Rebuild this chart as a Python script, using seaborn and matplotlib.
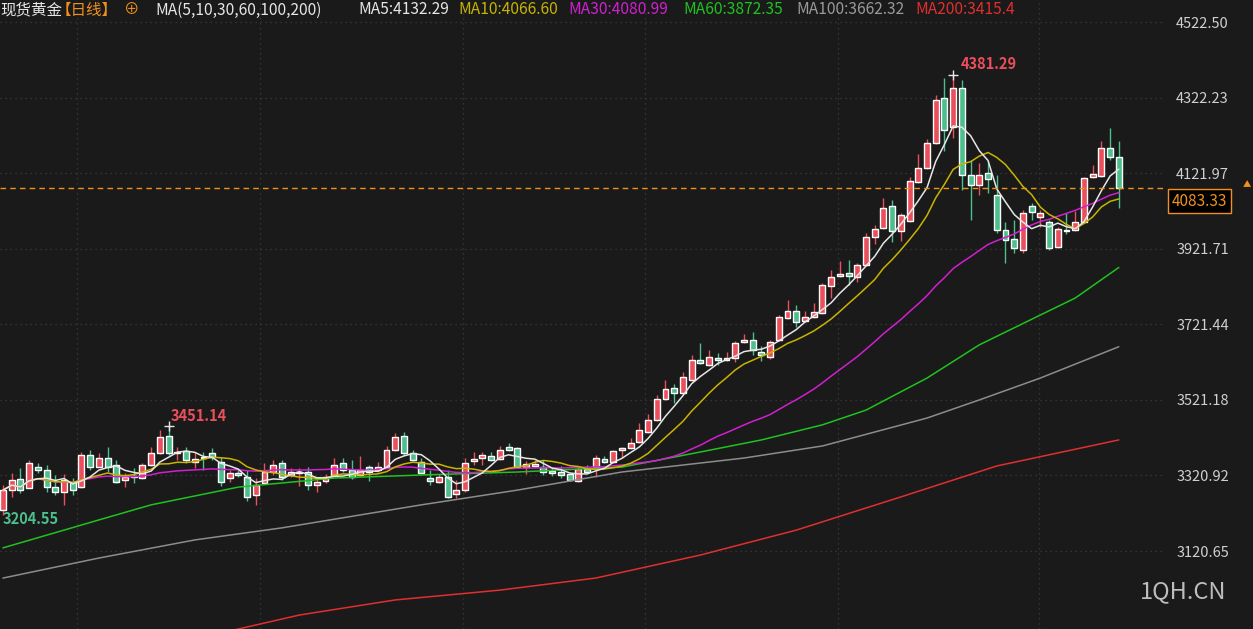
import numpy as np
import pandas as pd
import matplotlib
matplotlib.use("Agg")
import matplotlib.pyplot as plt
import seaborn as sns

# daily candles of spot gold
opens = [3229, 3282, 3311, 3287, 3343, 3335, 3290, 3277, 3303, 3290,
         3375, 3343, 3367, 3348, 3308, 3319, 3314, 3348, 3380, 3425,
         3380, 3385, 3356, 3369, 3380, 3356, 3314, 3327, 3316, 3269,
         3301, 3330, 3354, 3322, 3327, 3330, 3295, 3306, 3322, 3354,
         3335, 3322, 3343, 3335, 3343, 3388, 3425, 3380, 3356, 3314,
         3303, 3316, 3271, 3282, 3359, 3367, 3372, 3364, 3396, 3393,
         3343, 3346, 3343, 3332, 3330, 3324, 3306, 3338, 3343, 3364,
         3356, 3388, 3393, 3409, 3436, 3468, 3523, 3552, 3539, 3574,
         3627, 3613, 3632, 3627, 3632, 3674, 3680, 3648, 3634, 3680,
         3738, 3756, 3730, 3740, 3751, 3823, 3849, 3857, 3846, 3878,
         3952, 3976, 4035, 3968, 3995, 4098, 4135, 4202, 4321, 4244,
         4347, 4117, 4090, 4122, 4064, 3971, 3947, 3918, 4035, 4005,
         3992, 3926, 3971, 3971, 3992, 4111, 4114, 4188, 4164]
closes = [3282, 3308, 3282, 3354, 3335, 3290, 3277, 3308, 3282, 3375,
          3343, 3367, 3343, 3303, 3316, 3316, 3348, 3380, 3422, 3380,
          3383, 3362, 3364, 3367, 3369, 3303, 3327, 3322, 3263, 3295,
          3330, 3348, 3316, 3330, 3330, 3295, 3303, 3316, 3348, 3335,
          3316, 3335, 3330, 3343, 3388, 3422, 3380, 3362, 3327, 3306,
          3316, 3263, 3282, 3354, 3365, 3375, 3362, 3388, 3388, 3343,
          3351, 3351, 3330, 3327, 3322, 3308, 3338, 3330, 3367, 3356,
          3385, 3393, 3407, 3441, 3468, 3523, 3550, 3539, 3581, 3627,
          3619, 3634, 3627, 3632, 3672, 3680, 3653, 3640, 3674, 3740,
          3756, 3727, 3740, 3754, 3825, 3846, 3854, 3849, 3878, 3952,
          3974, 4029, 3968, 4011, 4101, 4135, 4202, 4316, 4236, 4347,
          4117, 4090, 4117, 4106, 3971, 3945, 3923, 4016, 4019, 4016,
          3923, 3974, 3968, 3992, 4109, 4119, 4188, 4164, 4083.33]
highs = [3295, 3327, 3340, 3362, 3354, 3348, 3322, 3324, 3314, 3383,
         3388, 3380, 3396, 3362, 3327, 3340, 3354, 3396, 3441, 3451.14,
         3396, 3396, 3383, 3383, 3393, 3369, 3335, 3335, 3335, 3314,
         3354, 3362, 3362, 3340, 3340, 3343, 3314, 3324, 3367, 3367,
         3362, 3372, 3348, 3356, 3399, 3433, 3436, 3388, 3367, 3335,
         3324, 3335, 3308, 3367, 3383, 3383, 3383, 3399, 3407, 3396,
         3359, 3362, 3362, 3340, 3346, 3327, 3346, 3348, 3375, 3372,
         3388, 3396, 3420, 3460, 3483, 3534, 3574, 3563, 3595, 3640,
         3672, 3653, 3645, 3648, 3677, 3695, 3701, 3664, 3680, 3746,
         3786, 3772, 3756, 3778, 3831, 3865, 3889, 3892, 3884, 3963,
         3984, 4056, 4051, 4016, 4111, 4172, 4212, 4329, 4374, 4381.29,
         4369, 4157, 4149, 4154, 4117, 3992, 3999, 4024, 4043, 4024,
         3999, 3979, 4016, 4021, 4111, 4143, 4207, 4241, 4207]
lows = [3216, 3263, 3274, 3287, 3327, 3277, 3269, 3242, 3269, 3287,
        3335, 3343, 3330, 3301, 3290, 3301, 3311, 3346, 3378, 3375,
        3362, 3354, 3340, 3335, 3362, 3293, 3303, 3316, 3253, 3242,
        3298, 3322, 3308, 3316, 3293, 3282, 3277, 3301, 3319, 3330,
        3311, 3319, 3306, 3330, 3340, 3385, 3375, 3359, 3324, 3295,
        3301, 3261, 3261, 3277, 3348, 3348, 3359, 3362, 3385, 3340,
        3324, 3343, 3322, 3319, 3314, 3306, 3303, 3324, 3316, 3354,
        3354, 3369, 3390, 3407, 3433, 3465, 3520, 3513, 3536, 3570,
        3615, 3610, 3613, 3624, 3621, 3671, 3640, 3624, 3629, 3677,
        3735, 3714, 3727, 3737, 3748, 3791, 3846, 3825, 3833, 3875,
        3934, 3973, 3939, 3942, 3992, 4095, 4132, 4199, 4180, 4215,
        4077, 3998, 4064, 4069, 3963, 3884, 3910, 3910, 3998, 3979,
        3918, 3923, 3960, 3968, 3990, 4109, 4111, 4157, 4029]

# long averages, read at a few candles
ma60_idx = [0, 7, 11, 17, 27, 38, 48, 59, 71, 80, 87, 94, 99, 106, 112, 119, 123, 128]
ma60_val = [3129, 3176, 3203, 3243, 3290, 3314, 3322, 3330, 3343, 3383, 3415, 3455,
            3494, 3579, 3667, 3746, 3791, 3872]
ma100_idx = [0, 11, 22, 32, 48, 59, 71, 85, 94, 106, 112, 119, 128]
ma100_val = [3049, 3102, 3150, 3182, 3243, 3282, 3330, 3367, 3399, 3473, 3521, 3579, 3662]
ma200_idx = [0, 27, 34, 45, 57, 68, 80, 91, 103, 114, 128]
ma200_val = [2779, 2914, 2951, 2991, 3017, 3049, 3110, 3176, 3264, 3346, 3415]

y_ticks = [4522.50, 4322.23, 4121.97, 3921.71, 3721.44, 3521.18, 3320.92, 3120.65]
last_price = 4083.33

BG = "#1a1a1a"
UP = "#eb4f5c"
DOWN = "#4cbf8c"

df = pd.DataFrame({"open": opens, "close": closes, "high": highs, "low": lows})
df["i"] = np.arange(len(df))
df["ma5"] = df["close"].rolling(5, min_periods=1).mean()
df["ma10"] = df["close"].rolling(10, min_periods=1).mean()
df["ma30"] = df["close"].rolling(30, min_periods=1).mean()

sns.set_style("dark", {"axes.facecolor": BG, "figure.facecolor": BG})
plt.rcParams["font.family"] = ["Noto Sans CJK SC", "DejaVu Sans"]

fig = plt.figure(figsize=(12.53, 6.29), dpi=100)
ax = fig.add_axes([0, 0, 1165 / 1253, 1])
ax.set_facecolor(BG)

up = df["close"] >= df["open"]
for mask, col in [(up, UP), (~up, DOWN)]:
    d = df[mask]
    ax.vlines(d["i"], d["low"], d["high"], color=col, lw=1, zorder=2)
    ax.bar(d["i"], (d["close"] - d["open"]).abs().clip(lower=1.5),
           bottom=np.minimum(d["open"], d["close"]), width=0.68, color=col, zorder=3)

sns.lineplot(x=ma200_idx, y=ma200_val, color="#e02f2f", lw=1.1, ax=ax, zorder=4)
sns.lineplot(x=ma100_idx, y=ma100_val, color="#8c8c8c", lw=1.1, ax=ax, zorder=4)
sns.lineplot(x=ma60_idx, y=ma60_val, color="#1fc21f", lw=1.1, ax=ax, zorder=4)
sns.lineplot(data=df, x="i", y="ma30", color="#d21fd2", lw=1.1, ax=ax, zorder=4)
sns.lineplot(data=df, x="i", y="ma10", color="#c8b400", lw=1.1, ax=ax, zorder=4)
sns.lineplot(data=df, x="i", y="ma5", color="#e6e6e6", lw=1.1, ax=ax, zorder=5)

ax.axhline(last_price, color="#f0901e", lw=1, ls=(0, (4, 3)), zorder=6)

ax.set_xlim(-0.34, 133.3)
ax.set_ylim(2914, 4580.8)
ax.set_xlabel("")
ax.set_ylabel("")
ax.set_xticks([8.5, 29.5, 52.8, 73.7, 95.8, 118.9])
ax.set_xticklabels([])
ax.set_yticks(y_ticks)
ax.set_yticklabels([f"{v:.2f}" for v in y_ticks])
ax.yaxis.tick_right()
ax.tick_params(axis="y", length=0, pad=8, labelcolor="#d0d0d0", labelsize=10.5)
ax.tick_params(axis="x", length=0)
ax.grid(True, color="#3c3c3c", ls=(0, (1, 3)), lw=0.9)
for s in ax.spines.values():
    s.set_visible(False)

# price markers
ax.text(109.9, 4381.29 + 10, "4381.29", color=UP, fontsize=10.5, fontweight="bold", va="bottom")
ax.text(19.2, 3451.14 + 5, "3451.14", color=UP, fontsize=10.5, fontweight="bold", va="bottom")
ax.text(0, 3204.55, "3204.55", color=DOWN, fontsize=10.5, fontweight="bold", va="center")
ax.plot([109], [4381.29], marker="+", color="#e6e6e6", ms=7)
ax.plot([19], [3451.14], marker="+", color="#e6e6e6", ms=7)

# last price box
fig.text(1172 / 1253, 1 - 201 / 629, f"{last_price:.2f}", color="#f0901e", fontsize=11,
         va="center", ha="left",
         bbox=dict(boxstyle="square,pad=0.25", fc="black", ec="#f0901e", lw=1))
fig.text(1247 / 1253, 1 - 185 / 629, "▲", color="#f0901e", fontsize=6, ha="center", va="center")

# header
hy = 1 - 10 / 629
parts = [(0, "现货黄金", "#e6e6e6"), (56, "【日线】", "#f0901e"), (124, "⊕", "#f0901e"),
         (155, "MA(5,10,30,60,100,200)", "#e6e6e6"), (358, "MA5:4132.29", "#e6e6e6"),
         (458, "MA10:4066.60", "#c8b400"), (568, "MA30:4080.99", "#d21fd2"),
         (683, "MA60:3872.35", "#1fc21f"), (796, "MA100:3662.32", "#9a9a9a"),
         (915, "MA200:3415.4", "#e02f2f")]
for px, t, c in parts:
    fig.text(px / 1253, hy, t, color=c, fontsize=11.2, va="center", ha="left")

fig.text(1183 / 1253, 1 - 592 / 629, "1QH.CN", color="#bdbdbd", fontsize=17, ha="center", va="center")

fig.savefig("out.png", dpi=100, facecolor=BG)
